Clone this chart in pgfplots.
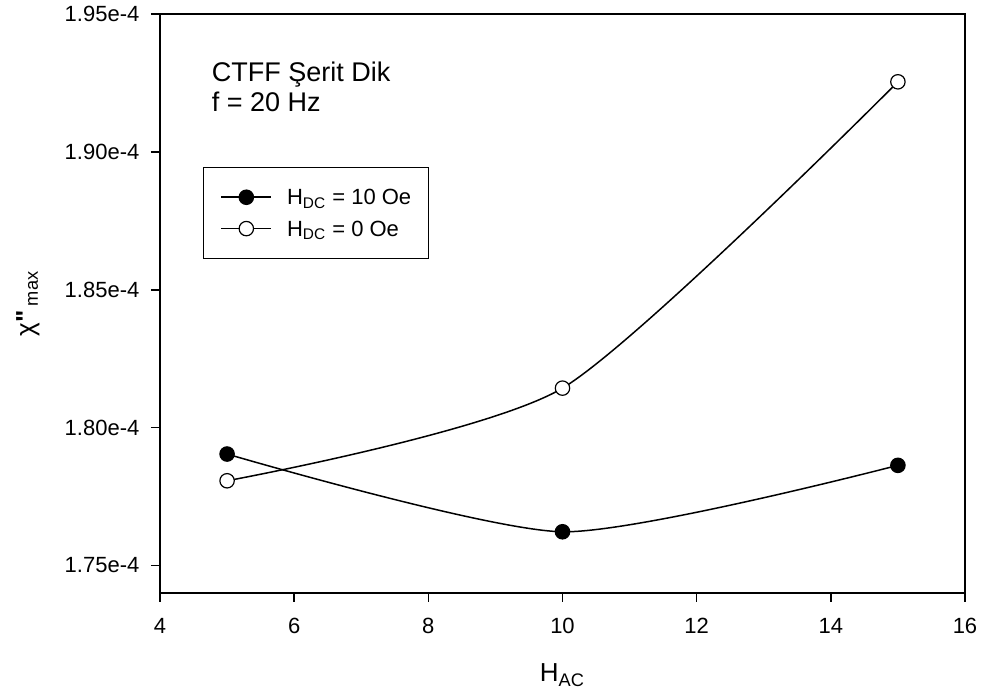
\documentclass[border=0pt]{standalone}
\usepackage{fontspec}
\setmainfont{Liberation Sans}
\newfontfamily\plainquotes{Liberation Sans}[Ligatures=TeXOff]
\usepackage{pgfplots}
\pgfplotsset{compat=1.18}

\begin{document}
\begin{tikzpicture}
\begin{axis}[
  at={(0,0)}, anchor=south west,
  scale only axis, width=402.5pt, height=289.5pt,
  xmin=4, xmax=16, ymin=1.74e-4, ymax=1.95e-4,
  xtick={4,6,8,10,12,14,16},
  ytick={1.75e-4,1.80e-4,1.85e-4,1.90e-4,1.95e-4},
  yticklabels={1.75e-4,1.80e-4,1.85e-4,1.90e-4,1.95e-4},
  scaled y ticks=false,
  tick align=outside, tick pos=left, major tick length=4.5pt,
  axis line style={line width=0.8pt},
  every tick/.style={black, line width=0.8pt},
  /pgf/number format/assume math mode=true,
  tick label style={font=\fontsize{11}{13}\selectfont},
  xticklabel style={yshift=-4.5pt},
  yticklabel style={xshift=-2.3pt},
  xlabel={H\textsubscript{AC}},
  ylabel={χ{\plainquotes\bfseries "}\,\textsubscript{max}},
  label style={font=\fontsize{13}{15}\selectfont},
  xlabel style={at={(axis description cs:0.5,-0.1416)}, anchor=center},
  ylabel style={at={(axis description cs:-0.164,0.5)}, anchor=center},
  legend cell align=left,
  legend style={at={(axis description cs:0.0534,0.7358)}, anchor=north west,
    draw=black, line width=0.6pt, font=\fontsize{11}{13}\selectfont,
    inner xsep=8.5pt, inner ysep=11pt, row sep=8pt, column sep=7.5pt,
    nodes={inner sep=0pt, text depth=0pt}},
  legend image code/.code={%
    \draw[mark repeat=2,mark phase=2] plot coordinates {(0pt,0pt)(12.5pt,0pt)(25pt,0pt)};},
]
% H_DC = 10 Oe
\addplot[black, line width=0.75pt, smooth, tension=0.4, mark=*, mark size=3.6pt,
  mark options={fill=black, line width=0.6pt}]
  coordinates {(5,1.7904e-4) (10,1.7622e-4) (15,1.7863e-4)};
\addlegendentry{H\textsubscript{DC} = 10 Oe}
% H_DC = 0 Oe
\addplot[black, line width=0.75pt, smooth, tension=0.4, mark=*, mark size=3.6pt,
  mark options={fill=white, line width=0.6pt}]
  coordinates {(5,1.7807e-4) (10,1.8143e-4) (15,1.9254e-4)};
\addlegendentry{H\textsubscript{DC} = 0 Oe}

% sample description
\node[anchor=base west, inner sep=0pt, font=\fontsize{13.5}{15}\selectfont]
  at (axis description cs:0.064,0.8831) {CTFF Şerit Dik};
\node[anchor=base west, inner sep=0pt, font=\fontsize{13.5}{15}\selectfont]
  at (axis description cs:0.064,0.8313) {f = 20 Hz};
\end{axis}
\pgfresetboundingbox
\useasboundingbox (-80pt,-53pt) rectangle (410.5pt,296.5pt);
\end{tikzpicture}
\end{document}
